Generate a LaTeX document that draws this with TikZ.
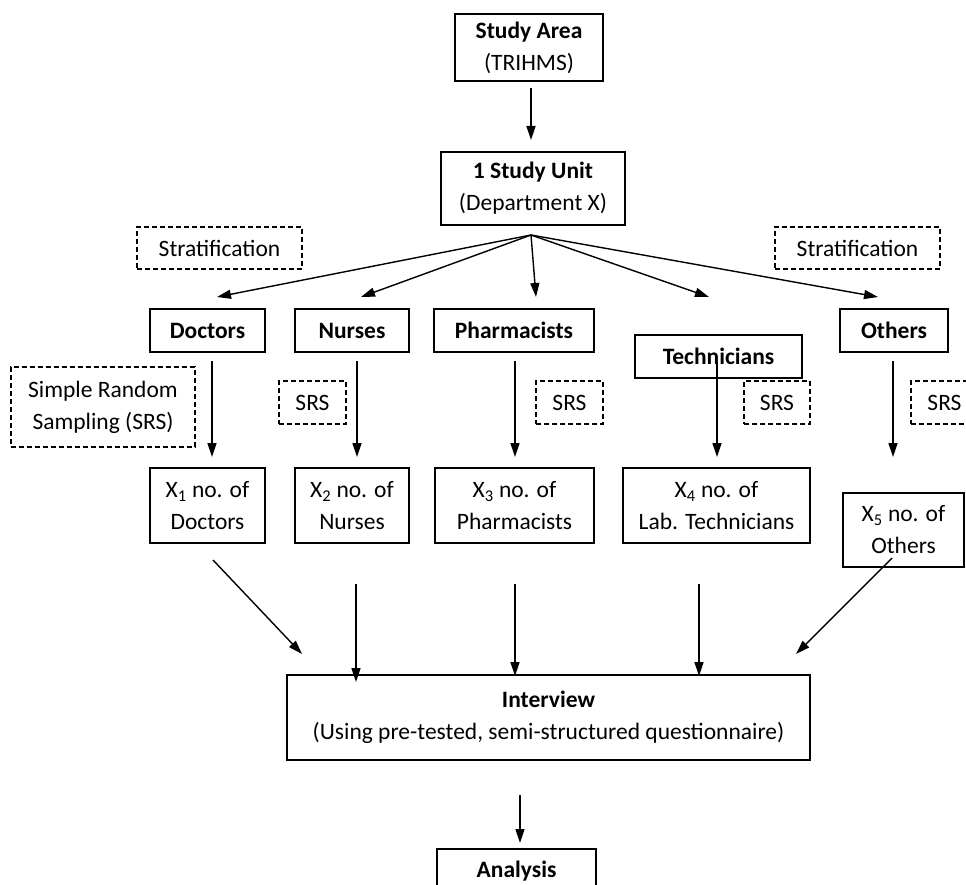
\documentclass[tikz,border=0pt]{standalone}
\usepackage{fontspec}
\setmainfont{Carlito}
\usetikzlibrary{arrows.meta}
\begin{document}
\begin{tikzpicture}[x=1pt,y=-1pt,
  box/.style={draw,line width=1.6pt,align=center,inner sep=0pt,font=\fontsize{23.5}{32}\selectfont},
  dbox/.style={box,line width=1.3pt,dash pattern=on 5pt off 3pt},
  arr/.style={-{Triangle[length=14pt,width=9pt]},line width=1.4pt}]
\useasboundingbox (0,0) rectangle (966,885);
\clip (0,0) rectangle (966,885);
% main boxes
\node[box,minimum width=148pt,minimum height=67pt] (area) at (529,47.5) {\textbf{Study Area}\\(TRIHMS)};
\node[box,minimum width=184pt,minimum height=73pt] (unit) at (533,188.5) {\textbf{1 Study Unit}\\(Department X)};
\node[dbox,minimum width=165pt,minimum height=42pt] (stratL) at (219.5,248) {Stratification};
\node[dbox,minimum width=165pt,minimum height=42pt] (stratR) at (857.5,248) {Stratification};
% categories
\node[box,minimum width=115pt,minimum height=43pt] (doc) at (207.5,330.5) {\textbf{Doctors}};
\node[box,minimum width=114pt,minimum height=43pt] (nur) at (352,330.5) {\textbf{Nurses}};
\node[box,minimum width=160pt,minimum height=43pt] (pha) at (514,330.5) {\textbf{Pharmacists}};
\node[box,minimum width=167pt,minimum height=43pt] (tec) at (718.5,356.5) {\textbf{Technicians}};
\node[box,minimum width=108pt,minimum height=43pt] (oth) at (894,330.5) {\textbf{Others}};
% SRS
\node[dbox,minimum width=184pt,minimum height=80pt] (srsL) at (103,407) {Simple Random\\Sampling (SRS)};
\node[dbox,minimum width=67pt,minimum height=43pt] (srs2) at (312.5,402.5) {SRS};
\node[dbox,minimum width=67pt,minimum height=43pt] (srs3) at (569.5,402.5) {SRS};
\node[dbox,minimum width=66pt,minimum height=43pt] (srs4) at (777,402.5) {SRS};
\node[dbox,minimum width=67pt,minimum height=43pt] (srs5) at (944.5,402.5) {SRS};
% counts
\node[box,minimum width=115pt,minimum height=75pt] (x1) at (207.5,505.5) {X\textsubscript{1} no. of\\Doctors};
\node[box,minimum width=114pt,minimum height=75pt] (x2) at (352,505.5) {X\textsubscript{2} no. of\\Nurses};
\node[box,minimum width=159pt,minimum height=75pt] (x3) at (514.5,505.5) {X\textsubscript{3} no. of\\Pharmacists};
\node[box,minimum width=187pt,minimum height=75pt] (x4) at (716.5,505.5) {X\textsubscript{4} no. of\\Lab. Technicians};
\node[box,minimum width=121pt,minimum height=74pt] (x5) at (903.5,530) {X\textsubscript{5} no. of\\Others};
% interview, analysis
\node[box,minimum width=523pt,minimum height=85pt] (intv) at (548.5,717.5) {\textbf{Interview}\\(Using pre-tested, semi-structured questionnaire)};
\node[box,minimum width=159pt,minimum height=60pt,anchor=north] (anal) at (516.5,848) {};
\node[font=\fontsize{23.5}{32}\selectfont\bfseries] (analt) at (516.5,871) {Analysis};
% connector coordinates
\coordinate (a1) at (531,88);   \coordinate (a2) at (531,140);
\coordinate (fan) at (531,235);
\coordinate (t1) at (217,297); \coordinate (t2) at (361,297); \coordinate (t3) at (536,297);
\coordinate (t4) at (709,297); \coordinate (t5) at (878,297);
\coordinate (d1) at (212,361); \coordinate (e1) at (212,457);
\coordinate (d2) at (357,361); \coordinate (e2) at (357,457);
\coordinate (d3) at (515,361); \coordinate (e3) at (515,457);
\coordinate (d4) at (717,362); \coordinate (e4) at (717,457);
\coordinate (d5) at (893,361); \coordinate (e5) at (893,457);
\coordinate (f1) at (213,560); \coordinate (g1) at (302,654);
\coordinate (f2) at (356,584); \coordinate (g2) at (356,682);
\coordinate (f3) at (515,584); \coordinate (g3) at (515,676);
\coordinate (f4) at (699,584); \coordinate (g4) at (699,676);
\coordinate (f5) at (892,558); \coordinate (g5) at (796,654);
\coordinate (h1) at (520,795); \coordinate (h2) at (520,843);
% connectors
\draw[arr] (a1) -- (a2);
\foreach \t in {t1,t2,t3,t4,t5} \draw[arr] (fan) -- (\t);
\foreach \i in {1,...,5} \draw[arr] (d\i) -- (e\i);
\foreach \i in {1,...,5} \draw[arr] (f\i) -- (g\i);
\draw[arr] (h1) -- (h2);
\end{tikzpicture}
\end{document}
